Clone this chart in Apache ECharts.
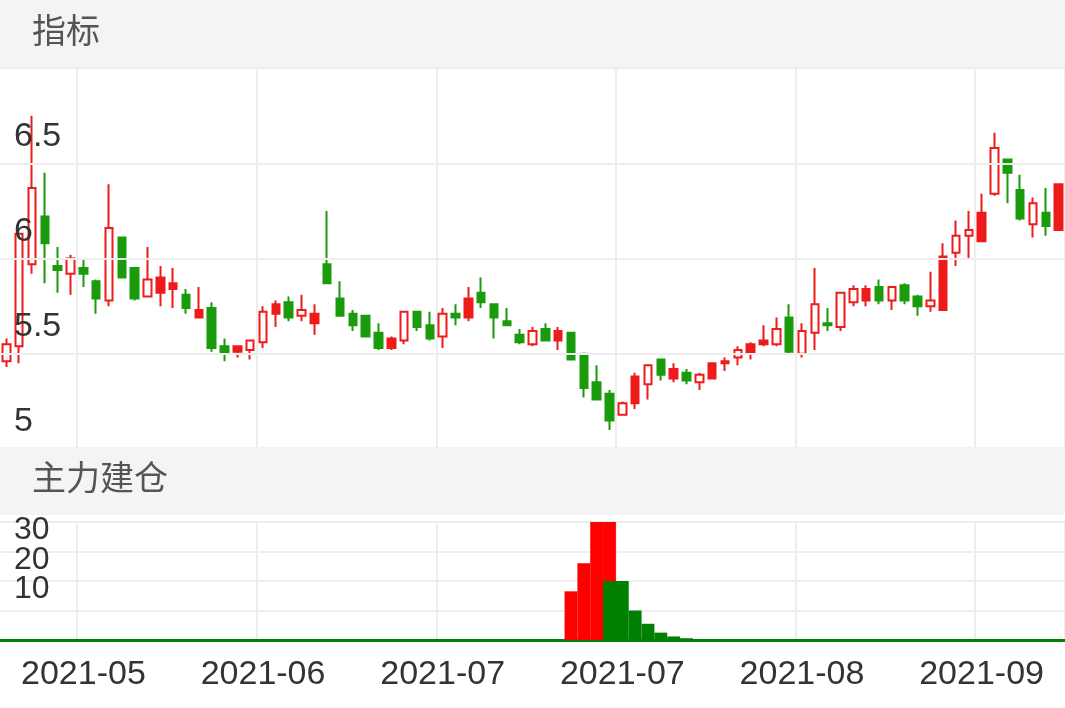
<!DOCTYPE html>
<html><head><meta charset="utf-8">
<script src="https://cdn.jsdelivr.net/npm/echarts@6/dist/echarts.min.js"></script>
<style>html,body{margin:0;padding:0;background:#fff}#c{width:1065px;height:708px}</style>
</head><body><div id="c"></div>
<script>
// candle data: [open, close, low, high]
const opens  = [5.46,5.54,5.97,6.22,5.96,5.92,5.95,5.88,5.78,6.11,5.95,5.80,5.90,5.87,5.81,5.73,5.74,5.54,5.54,5.52,5.56,
                5.76,5.77,5.70,5.71,5.97,5.79,5.71,5.70,5.61,5.58,5.57,5.72,5.65,5.59,5.71,5.79,5.82,5.76,5.67,5.60,5.55,
                5.63,5.62,5.61,5.50,5.35,5.29,5.18,5.38,5.34,5.47,5.42,5.40,5.35,5.45,5.46,5.48,5.55,5.57,5.55,5.69,
                5.50,5.61,5.66,5.64,5.77,5.84,5.85,5.78,5.86,5.80,5.75,6.01,6.03,6.12,6.24,6.34,6.52,6.36,6.18,6.24,6.39];
const closes = [5.55,6.13,6.37,6.08,5.94,6.00,5.92,5.79,6.16,5.90,5.79,5.89,5.82,5.84,5.74,5.69,5.53,5.50,5.51,5.57,5.72,
                5.71,5.69,5.73,5.66,5.87,5.70,5.65,5.59,5.53,5.53,5.72,5.64,5.58,5.71,5.69,5.69,5.77,5.69,5.65,5.56,5.62,
                5.57,5.57,5.47,5.32,5.26,5.15,5.24,5.24,5.44,5.39,5.37,5.36,5.39,5.37,5.45,5.52,5.50,5.55,5.63,5.51,
                5.62,5.76,5.65,5.82,5.84,5.78,5.78,5.85,5.78,5.75,5.78,5.73,6.12,6.15,6.09,6.58,6.45,6.21,6.29,6.17,6.15];
const lows   = [5.43,5.45,5.92,5.87,5.82,5.81,5.85,5.71,5.75,5.90,5.78,5.80,5.75,5.74,5.71,5.69,5.51,5.46,5.48,5.47,5.53,
                5.64,5.67,5.67,5.60,5.87,5.70,5.62,5.59,5.52,5.52,5.55,5.62,5.57,5.53,5.65,5.67,5.74,5.58,5.65,5.55,5.54,
                5.57,5.52,5.47,5.27,5.26,5.10,5.18,5.21,5.26,5.36,5.35,5.34,5.31,5.37,5.41,5.44,5.47,5.54,5.54,5.50,
                5.48,5.52,5.62,5.62,5.75,5.75,5.76,5.73,5.76,5.70,5.72,5.73,5.96,6.00,6.09,6.33,6.29,6.20,6.11,6.12,6.15];
const highs  = [5.58,6.13,6.75,6.45,6.06,6.02,6.00,5.89,6.39,6.11,5.95,6.06,5.96,5.95,5.84,5.85,5.77,5.58,5.54,5.57,5.75,
                5.78,5.80,5.81,5.76,6.25,5.88,5.73,5.70,5.66,5.59,5.72,5.72,5.72,5.74,5.76,5.85,5.90,5.76,5.74,5.63,5.64,
                5.66,5.64,5.61,5.50,5.44,5.31,5.25,5.40,5.44,5.47,5.45,5.42,5.40,5.45,5.48,5.54,5.56,5.65,5.69,5.76,
                5.66,5.95,5.74,5.82,5.86,5.86,5.89,5.85,5.87,5.81,5.93,6.08,6.20,6.25,6.34,6.66,6.52,6.44,6.32,6.37,6.39];
// candle kind: u = rising (hollow red), f = red filled, d = falling (green)
const kinds = ('u u u d d u d d u d d u f f d f d d f u u ' +
               'f d u f d d d d d f u d d u d f d d d d u ' +
               'd f d d d d u f u d f d u f f u f f u d ' +
               'u u d u u f d u d d u f u u f u d d u d f').trim().split(/\s+/);
// 主力建仓 bars
const redBars   = [0,0,0,0,0,0,0,0,0,0,0,0,0,0,0,0,0,0,0,0,0,0,0,0,0,0,0,0,0,0,0,0,0,0,0,0,0,0,0,0,0,0,0,0,16.5,26,45,45,0,0,0,0,0,0,0,0,0,0,0,0,0,0,0,0,0,0,0,0,0,0,0,0,0,0,0,0,0,0,0,0,0,0,0];
const greenBars = [0,0,0,0,0,0,0,0,0,0,0,0,0,0,0,0,0,0,0,0,0,0,0,0,0,0,0,0,0,0,0,0,0,0,0,0,0,0,0,0,0,0,0,0,0,0,0,20,20,10,5.5,2.5,1.2,0.6,0.3,0.15,0,0,0,0,0,0,0,0,0,0,0,0,0,0,0,0,0,0,0,0,0,0,0,0,0,0,0];
const tickIdx = [6,20,34,48,62,76];
const tickLabels = ['2021-05','2021-06','2021-07','2021-07','2021-08','2021-09'];

const categories = opens.map((_, i) => String(i));
const RED = '#ee1b1b', GREEN = '#1a9b0c';
const candleData = opens.map((o, i) => {
  const k = kinds[i];
  const item = { value: [o, closes[i], lows[i], highs[i]] };
  if (k === 'f') item.itemStyle = { color: RED, color0: RED, borderColor: RED, borderColor0: RED };
  if (k === 'd') item.itemStyle = { color: GREEN, color0: GREEN, borderColor: GREEN, borderColor0: GREEN };
  if (k === 'u') item.itemStyle = { color: '#ffffff', color0: '#ffffff', borderColor: RED, borderColor0: RED };
  return item;
});
const isTick = (i) => tickIdx.indexOf(i) >= 0;
const split = { show: true, interval: (i) => isTick(i), lineStyle: { color: '#eeeeee', width: 2 } };

const chart = echarts.init(document.getElementById('c'));
chart.setOption({
  animation: false,
  graphic: [
    { type: 'rect', left: 0, top: 0, shape: { width: 1065, height: 68 }, style: { fill: '#f4f4f4' }, z: -1 },
    { type: 'text', left: 32, top: 13, style: { text: '指标', fontSize: 34, fill: '#555', fontFamily: 'Noto Sans CJK SC' } },
    { type: 'rect', left: 0, top: 447, shape: { width: 1065, height: 68 }, style: { fill: '#f4f4f4' }, z: 10 },
    { type: 'text', left: 32, top: 460, style: { text: '主力建仓', fontSize: 34, fill: '#555', fontFamily: 'Noto Sans CJK SC' }, z: 11 }
  ],
  grid: [
    { left: -4.5, width: 1079, top: 68, height: 381 },
    { left: -4.5, width: 1079, top: 522, height: 118 }
  ],
  xAxis: [
    { type: 'category', data: categories, gridIndex: 0, boundaryGap: true,
      axisLine: { show: false }, axisTick: { show: false }, axisLabel: { show: false }, splitLine: split },
    { type: 'category', data: categories, gridIndex: 1, boundaryGap: true,
      axisLine: { show: true, lineStyle: { color: '#008000', width: 3 } }, axisTick: { show: false },
      axisLabel: { interval: (i) => isTick(i), formatter: (v, i) => tickLabels[tickIdx.indexOf(Number(v))] || '',
        fontSize: 34, color: '#333', margin: 18, fontFamily: 'Liberation Sans' },
      splitLine: split }
  ],
  yAxis: [
    { type: 'value', gridIndex: 0, min: 5, max: 7, interval: 0.5,
      axisLine: { show: false }, axisTick: { show: false },
      axisLabel: { inside: true, fontSize: 34, color: '#333', verticalAlign: 'bottom', padding: [0, 0, 10, 6],
        fontFamily: 'Liberation Sans', formatter: (v) => v >= 7 ? '' : String(v) },
      splitLine: { lineStyle: { color: '#eeeeee', width: 2 } }, z: 5 },
    { type: 'value', gridIndex: 1, min: 0, max: 40, interval: 10,
      axisLine: { show: false }, axisTick: { show: false },
      axisLabel: { inside: true, fontSize: 32, color: '#333', verticalAlign: 'bottom', padding: [0, 0, 6, 6],
        fontFamily: 'Liberation Sans', lineHeight: 30, formatter: (v) => (v === 0 || v === 40) ? '' : String(v) },
      splitLine: { lineStyle: { color: '#eeeeee', width: 2 } } }
  ],
  series: [
    { type: 'candlestick', xAxisIndex: 0, yAxisIndex: 0, data: candleData, barWidth: 8,
      itemStyle: { color: '#ffffff', color0: GREEN, borderColor: RED, borderColor0: GREEN, borderWidth: 2 } },
    { type: 'bar', xAxisIndex: 1, yAxisIndex: 1, data: redBars, barWidth: '100%', barGap: '-100%',
      itemStyle: { color: '#ff0000' } },
    { type: 'bar', xAxisIndex: 1, yAxisIndex: 1, data: greenBars, barWidth: '100%', barGap: '-100%',
      itemStyle: { color: '#008000' } }
  ]
});
</script></body></html>
